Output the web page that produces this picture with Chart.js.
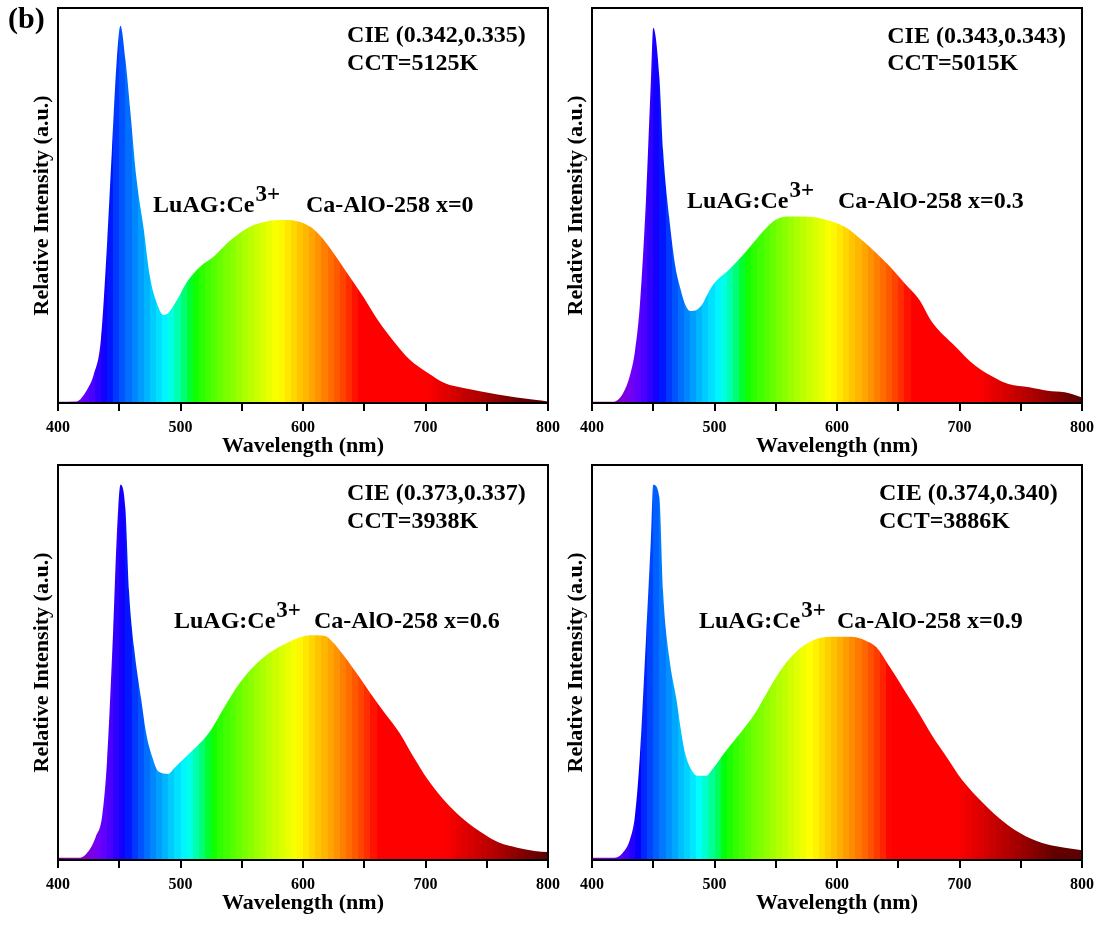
<!DOCTYPE html>
<html>
<head>
<meta charset="utf-8">
<title>LuAG:Ce3+ / Ca-AlO-258 white LED spectra</title>
<script src="https://cdn.jsdelivr.net/npm/chart.js@4.4.1/dist/chart.umd.min.js"></script>
<style>
    html, body { margin: 0; padding: 0; background: #fff; overflow: hidden; }
    #page { position: relative; width: 1102px; height: 925px; }
    .panel { position: absolute; }
    #tag { position: absolute; left: 8px; top: 1px; font: bold 30px "Liberation Serif", "Times New Roman", serif; color: #000; }
</style>
</head>
<body>
<div id="page">
    <canvas id="chart0" class="panel" width="568" height="468" style="left:0;top:0"></canvas>
    <canvas id="chart1" class="panel" width="568" height="468" style="left:534px;top:0"></canvas>
    <canvas id="chart2" class="panel" width="568" height="468" style="left:0;top:457px"></canvas>
    <canvas id="chart3" class="panel" width="568" height="468" style="left:534px;top:457px"></canvas>
    <div id="tag">(b)</div>
</div>
<script>
const xTickValues = [400, 500, 600, 700, 800];
const sampleLabels = ["x=0", "x=0.3", "x=0.6", "x=0.9"];
const cieLabels = ["CIE (0.342,0.335)", "CIE (0.343,0.343)", "CIE (0.373,0.337)", "CIE (0.374,0.340)"];
const cctLabels = ["CCT=5125K", "CCT=5015K", "CCT=3938K", "CCT=3886K"];

// x = 0
const wavelengthX0 = [400, 415, 424, 429, 435, 440, 444, 448, 451, 455, 459, 464, 470, 475, 481, 486, 490, 497, 505, 516, 527, 535, 542, 556, 571, 583, 594, 606, 615, 626, 638, 650, 661, 673, 687, 702, 716, 731, 760, 789, 800];
const intensityX0 = [0.3, 0.4, 3.5, 7, 16, 40, 64, 87, 95.5, 87, 74, 57, 44, 32, 25, 22.3, 22.8, 26, 30.5, 34.5, 37, 39.5, 41.5, 44.5, 46, 46.3, 46.1, 44.6, 42, 37.5, 32, 26.5, 21, 16, 11, 7.6, 5, 3.8, 2.1, 0.8, 0.4];

// x = 0.3
const wavelengthX3 = [400, 417, 425, 431, 435, 439, 444, 448, 450, 455, 458, 463, 468, 473, 476, 480, 486, 490, 495, 500, 512, 527, 541, 550, 562, 573, 591, 608, 620, 632, 643, 655, 667, 678, 696, 713, 731, 740, 757, 772, 786, 800];
const intensityX3 = [0.3, 0.3, 2.3, 7, 13, 24.5, 51, 81, 95, 82.5, 64, 47, 34.6, 28, 25, 23.3, 23.7, 25, 28, 30.4, 33.8, 38.8, 43.9, 46.4, 47.2, 47.2, 46.4, 44.3, 41.3, 38, 34.6, 30.4, 26.2, 20.3, 14.5, 9.4, 6, 4.8, 4, 3.1, 2.7, 1.4];

// x = 0.6
const wavelengthX6 = [400, 418, 426, 431, 436, 440, 445, 448, 451, 455, 458, 462, 468, 472, 477, 482, 490, 495, 504, 516, 525, 536, 548, 562, 574, 586, 597, 606, 618, 623, 632, 644, 655, 667, 679, 690, 702, 717, 731, 746, 760, 775, 789, 800];
const intensityX6 = [0.6, 0.6, 2.7, 6, 11, 25, 58, 82, 95, 89, 68, 54, 40.5, 32, 26, 22.4, 21.8, 23.3, 26, 29.6, 33, 38.8, 44.7, 49.7, 52.7, 54.8, 56.3, 56.9, 56.7, 55.6, 52.3, 47.2, 42.2, 37.1, 32.1, 26.2, 20.3, 14.5, 10.3, 6.9, 4.4, 3.1, 2.3, 2];

// x = 0.9
const wavelengthX9 = [400, 418, 425, 431, 435, 439, 444, 448, 450, 455, 458, 463, 469, 473, 476, 482, 486, 493, 499, 509, 521, 533, 544, 556, 568, 582, 597, 611, 623, 632, 643, 655, 667, 678, 690, 702, 719, 737, 754, 772, 786, 800];
const intensityX9 = [0.6, 0.6, 1.8, 5.2, 11, 26, 55.6, 80.8, 95, 91.8, 68, 51.4, 40.5, 32, 27, 22.4, 21.3, 21.3, 23.3, 27.5, 32.1, 37.1, 43, 48.9, 53.1, 55.8, 56.5, 56.5, 55.6, 53.9, 48.9, 43, 37.1, 31.3, 25.8, 20.3, 14.5, 9.4, 6, 3.9, 3.1, 2.5];

const serif = '"Liberation Serif", "Times New Roman", serif';
Chart.defaults.font.family = serif;

// layout / style per panel (text anchors are in data units: nm, intensity)
const panels = [
    { canvasId: "chart0", wavelengths: wavelengthX0, intensities: intensityX0, spectrumShift: 0,
      cieAt: [636, 91.4], cctAt: [636, 84.3], luagAt: [477.6, 48.4], hostAt: [602.4, 48.4] },
    { canvasId: "chart1", wavelengths: wavelengthX3, intensities: intensityX3, spectrumShift: 15,
      cieAt: [641, 91.1], cctAt: [641, 84.3], luagAt: [477.6, 49.4], hostAt: [600.8, 49.4] },
    { canvasId: "chart2", wavelengths: wavelengthX6, intensities: intensityX6, spectrumShift: 15,
      cieAt: [636, 91.1], cctAt: [636, 84.1], luagAt: [494.7, 58.7], hostAt: [609, 58.7] },
    { canvasId: "chart3", wavelengths: wavelengthX9, intensities: intensityX9, spectrumShift: -2,
      cieAt: [634.3, 91.1], cctAt: [634.3, 84.1], luagAt: [487.3, 58.7], hostAt: [600, 58.7] }
];

function spectralColor(nm) {
    let r = 0;
    let g = 0;
    let b = 0;
    if (nm < 440) {
        r = Math.min(1, (440 - nm) / 60);
        b = 1;
    } else if (nm < 490) {
        g = (nm - 440) / 50;
        b = 1;
    } else if (nm < 510) {
        g = 1;
        b = (510 - nm) / 20;
    } else if (nm < 580) {
        r = (nm - 510) / 70;
        g = 1;
    } else if (nm < 645) {
        r = 1;
        g = (645 - nm) / 65;
    } else {
        r = 1;
    }
    let f = 1;
    if (nm < 420) {
        f = 0.3 + 0.7 * Math.max(0, nm - 380) / 40;
    } else if (nm > 700) {
        f = Math.max(0.3, 0.3 + 0.7 * (780 - nm) / 80);
    }
    const c = (v) => Math.round(255 * Math.pow(v * f, 0.8));
    return `rgb(${c(r)},${c(g)},${c(b)})`;
}

function spectrumFill(chart, shift) {
    if (!chart.chartArea) {
        return "rgba(0,0,0,0)";
    }
    const xScale = chart.scales.x;
    const x0 = xScale.getPixelForValue(400);
    const x1 = xScale.getPixelForValue(800);
    const grad = chart.ctx.createLinearGradient(x0, 0, x1, 0);
    for (let w = 400; w < 800; w += 5) {
        const col = spectralColor(w + 2.5 - shift);
        grad.addColorStop((w - 400) / 400, col);
        grad.addColorStop((w + 5 - 400) / 400, col);
    }
    return grad;
}

const framePlugin = {
    id: "frame",
    afterDatasetsDraw(chart) {
        const { ctx, chartArea } = chart;
        ctx.save();
        ctx.strokeStyle = "#000";
        ctx.lineWidth = 2;
        ctx.strokeRect(chartArea.left, chartArea.top, chartArea.right - chartArea.left, chartArea.bottom - chartArea.top);
        ctx.restore();
    }
};

const panelTextPlugin = {
    id: "panelText",
    afterDraw(chart, args, opts) {
        const { ctx, scales } = chart;
        const px = (p) => [scales.x.getPixelForValue(p[0]), scales.y.getPixelForValue(p[1])];
        ctx.save();
        ctx.fillStyle = "#000";
        ctx.textAlign = "left";
        ctx.textBaseline = "alphabetic";
        ctx.font = `bold 24px ${serif}`;

        let [x, y] = px(opts.cieAt);
        ctx.fillText(opts.cie, x, y);
        [x, y] = px(opts.cctAt);
        ctx.fillText(opts.cct, x, y);

        // phosphor name with raised "3+"
        [x, y] = px(opts.luagAt);
        ctx.fillText("LuAG:Ce", x, y);
        const w = ctx.measureText("LuAG:Ce").width;
        ctx.font = `bold 23px ${serif}`;
        ctx.fillText("3+", x + w + 1, y - 11);

        ctx.font = `bold 24px ${serif}`;
        [x, y] = px(opts.hostAt);
        ctx.fillText(`Ca-AlO-258 ${opts.sample}`, x, y);
        ctx.restore();
    }
};

function buildChart(panel, index) {
    const canvas = document.getElementById(panel.canvasId);
    return new Chart(canvas, {
        type: "line",
        data: {
            datasets: [{
                label: sampleLabels[index],
                data: panel.wavelengths.map((w, i) => ({ x: w, y: panel.intensities[i] })),
                fill: "origin",
                borderWidth: 0,
                pointRadius: 0,
                cubicInterpolationMode: "monotone",
                backgroundColor: (context) => spectrumFill(context.chart, panel.spectrumShift)
            }]
        },
        options: {
            responsive: false,
            animation: false,
            events: [],
            layout: { padding: { top: 8, right: 20, left: 0, bottom: 0 } },
            plugins: {
                legend: { display: false },
                tooltip: { enabled: false },
                panelText: {
                    cie: cieLabels[index],
                    cct: cctLabels[index],
                    sample: sampleLabels[index],
                    cieAt: panel.cieAt,
                    cctAt: panel.cctAt,
                    luagAt: panel.luagAt,
                    hostAt: panel.hostAt
                }
            },
            scales: {
                x: {
                    type: "linear",
                    min: 400,
                    max: 800,
                    afterFit: (scale) => { scale.height = 65; },
                    ticks: {
                        stepSize: 50,
                        autoSkip: false,
                        maxRotation: 0,
                        padding: 7,
                        color: "#000",
                        font: { family: serif, size: 16, weight: "bold" },
                        callback: (v) => (xTickValues.includes(v) ? String(v) : "")
                    },
                    grid: { drawOnChartArea: false, drawTicks: true, tickLength: 8, color: "#000", lineWidth: 2 },
                    border: { display: false },
                    title: {
                        display: true,
                        text: "Wavelength (nm)",
                        color: "#000",
                        font: { family: serif, size: 22, weight: "bold" },
                        padding: { top: 0, bottom: 8 }
                    }
                },
                y: {
                    min: 0,
                    max: 100,
                    afterFit: (scale) => { scale.width = 58; },
                    ticks: { display: false },
                    grid: { display: false },
                    border: { display: false },
                    title: {
                        display: true,
                        text: "Relative Intensity (a.u.)",
                        color: "#000",
                        font: { family: serif, size: 22, weight: "bold" },
                        padding: { top: 29, bottom: 0 }
                    }
                }
            }
        },
        plugins: [framePlugin, panelTextPlugin]
    });
}

panels.forEach((panel, index) => buildChart(panel, index));
</script>
</body>
</html>
